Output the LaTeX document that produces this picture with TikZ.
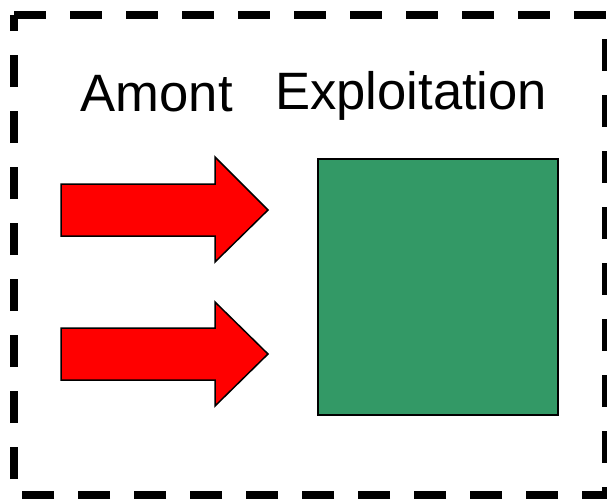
\documentclass[tikz,border=0pt]{standalone}
\usepackage{fontspec}
\setmainfont{Liberation Sans}
\definecolor{fieldgreen}{RGB}{51,153,102}
\tikzset{
  frame/.style={line width=8pt, dash pattern=on 32pt off 24pt, line join=miter},
  blockarrow/.style={fill=red, draw=black, line width=1.5pt, line join=miter},
  label/.style={inner sep=0pt, anchor=base west, font=\fontsize{52.6}{60}\selectfont},
  plot/.style={draw=black, fill=fieldgreen, line width=2.2pt, inner sep=0pt,
               minimum width=240pt, minimum height=256pt}
}
\begin{document}
\begin{tikzpicture}[x=1pt, y=-1pt]
  \useasboundingbox (0,0) rectangle (607,499);
  % dashed outer frame
  \draw[frame] (14,15) -- (606,15) -- (606,495) -- (14,495) -- cycle;
  % titles
  \node[label] (amont) at (80.5,111.7) {Amont};
  \node[label] (exploit) at (275.0,109.5) {Exploitation};
  % green field
  \node[plot] (field) at (438,287) {};
  % incoming block arrows
  \draw[blockarrow] (61,184) -- (215,184) -- (215,157) -- (268,210)
        -- (215,262) -- (215,236) -- (61,236) -- cycle;
  \draw[blockarrow] (61,328) -- (215,328) -- (215,302) -- (268,354)
        -- (215,406) -- (215,380) -- (61,380) -- cycle;
\end{tikzpicture}
\end{document}
